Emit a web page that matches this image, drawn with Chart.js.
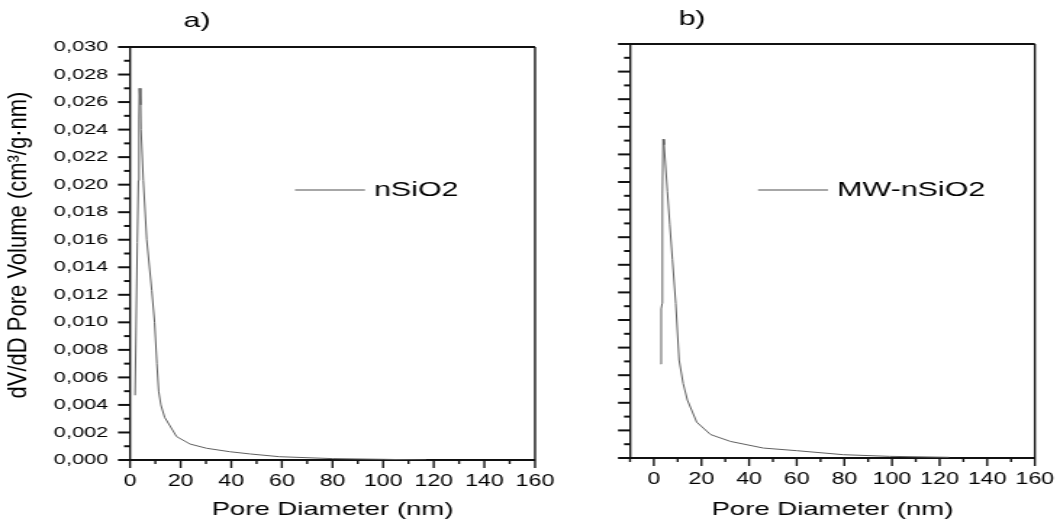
<!DOCTYPE html>
<html>
<head>
<meta charset="utf-8">
<script src="https://cdn.jsdelivr.net/npm/chart.js@4"></script>
<style>
    html, body { margin: 0; padding: 0; background: #fff; width: 1060px; height: 521px; overflow: hidden; }
    .panel { position: absolute; top: 0; height: 521px; }
    #panelA { left: 0; width: 580px; }
    #panelB { left: 580px; width: 480px; }
    canvas { display: block; }
</style>
</head>
<body>
<div class="panel" id="panelA"><canvas id="chartA"></canvas></div>
<div class="panel" id="panelB"><canvas id="chartB"></canvas></div>
<script>
// pore size distribution
var nSiO2Diameter = [2.0, 2.9, 3.3, 3.55, 3.7, 4.2, 4.35, 5.25, 6.6, 8.6, 9.7, 10.6, 11.3, 12.2, 13.7, 18.4, 23.7, 30.3, 39.5, 47.4, 59, 80, 100, 117];
var nSiO2Volume = [0.0047, 0.0158, 0.0203, 0.0247, 0.0270, 0.0258, 0.0240, 0.0203, 0.0160, 0.0123, 0.0100, 0.0070, 0.0050, 0.0040, 0.0031, 0.0017, 0.00116, 0.00085, 0.0006, 0.00044, 0.00024, 0.0001, 0.00005, 0.0];

var mwDiameter = [3.0, 3.1, 3.5, 3.6, 3.9, 4.3, 5.7, 6.7, 7.8, 9.2, 10.6, 12.3, 14.1, 18.0, 23.8, 32.2, 46, 60, 79.6, 99, 124];
var mwVolume = [0.0068, 0.0108, 0.0112, 0.0192, 0.0231, 0.0227, 0.0193, 0.0169, 0.0144, 0.0112, 0.0071, 0.0054, 0.0042, 0.0026, 0.0017, 0.0012, 0.00072, 0.00053, 0.00024, 0.00012, 0.00005];

var seriesNames = ['nSiO2', 'MW-nSiO2'];
var panelTitles = ['a)', 'b)'];
var xAxisTitle = 'Pore Diameter (nm)';
var yAxisTitle = 'dV/dD Pore Volume (cm\u00b3/g\u00b7nm)';

// the figure is stretched sideways, so the canvases are too
var S = 1.45;
var lineColor = '#606060';

Chart.defaults.font.family = "'Liberation Sans', Arial, sans-serif";
Chart.defaults.color = '#000';

function toPoints(xs, ys) {
    var pts = [];
    for (var i = 0; i < xs.length; i++) {
        pts.push({x: xs[i], y: ys[i]});
    }
    return pts;
}

var decorPlugin = {
    id: 'decor',
    afterDraw: function (chart, args, opts) {
        var ctx = chart.ctx;
        var area = chart.chartArea;
        var xs = chart.scales.x;
        var ys = chart.scales.y;
        ctx.save();
        ctx.strokeStyle = '#111';

        // top and right frame
        ctx.lineWidth = 2;
        ctx.beginPath();
        ctx.moveTo(area.left, area.top);
        ctx.lineTo(area.right, area.top);
        ctx.stroke();
        ctx.lineWidth = 2 / S;
        ctx.beginPath();
        ctx.moveTo(area.right, area.top);
        ctx.lineTo(area.right, area.bottom);
        ctx.stroke();

        // outward ticks, major + minor
        ctx.lineWidth = 2;
        ys.ticks.forEach(function (t) {
            var py = ys.getPixelForValue(t.value);
            var major = Math.round(t.value * 1000) % 2 === 0;
            var len = (major ? 12 : 6) / S;
            ctx.beginPath();
            ctx.moveTo(area.left - len, py);
            ctx.lineTo(area.left, py);
            ctx.stroke();
        });
        ctx.lineWidth = 2 / S;
        xs.ticks.forEach(function (t) {
            var px = xs.getPixelForValue(t.value);
            var major = t.value % 20 === 0;
            var len = major ? 8 : 4;
            ctx.beginPath();
            ctx.moveTo(px, area.bottom);
            ctx.lineTo(px, area.bottom + len);
            ctx.stroke();
        });

        // panel letter
        ctx.fillStyle = '#000';
        ctx.font = "21px 'Liberation Sans', Arial, sans-serif";
        ctx.textAlign = 'center';
        ctx.textBaseline = 'middle';
        ctx.fillText(opts.title, opts.titleX / S, opts.titleY);

        // legend
        var ds = chart.data.datasets[0];
        ctx.strokeStyle = '#8a8a8a';
        ctx.lineWidth = 1.5;
        ctx.beginPath();
        ctx.moveTo(opts.legendX1 / S, opts.legendY);
        ctx.lineTo(opts.legendX2 / S, opts.legendY);
        ctx.stroke();
        ctx.font = "21px 'Liberation Sans', Arial, sans-serif";
        ctx.textAlign = 'left';
        ctx.fillText(ds.label, opts.legendTextX / S, opts.legendY);

        // vertical axis title, mostly unstretched
        if (opts.yTitle) {
            ctx.save();
            ctx.translate(19 / S, 245);
            ctx.scale(1.15 / S, 1);
            ctx.rotate(-Math.PI / 2);
            ctx.font = "22px 'Liberation Sans', Arial, sans-serif";
            ctx.textAlign = 'center';
            ctx.fillText(opts.yTitle, 0, 0);
            ctx.restore();
        }
        ctx.restore();
    }
};

function makePanel(canvasId, cssWidth, areaLeft, areaRight, areaTop, areaBottom, xMin, showYLabels, xs, ys, name, decor) {
    var canvas = document.getElementById(canvasId);
    var w = Math.round(cssWidth / S);
    canvas.width = w;
    canvas.height = 521;
    canvas.style.width = (w * S) + 'px';
    canvas.style.height = '521px';

    var leftIn = areaLeft / S;
    var rightPad = w - areaRight / S;

    return new Chart(canvas, {
        type: 'scatter',
        data: {
            datasets: [{
                label: name,
                data: toPoints(xs, ys),
                showLine: true,
                borderColor: lineColor,
                borderWidth: 1,
                pointRadius: 0,
                tension: 0
            }]
        },
        options: {
            responsive: false,
            animation: false,
            devicePixelRatio: 1,
            layout: {padding: {left: 0, right: rightPad, top: areaTop, bottom: 0}},
            plugins: {
                legend: {display: false},
                tooltip: {enabled: false},
                decor: decor
            },
            scales: {
                x: {
                    type: 'linear',
                    min: xMin,
                    max: 160,
                    afterFit: function (scale) { scale.height = 521 - areaBottom; },
                    grid: {display: false},
                    border: {display: true, color: '#111', width: 2},
                    ticks: {
                        stepSize: 10,
                        autoSkip: false,
                        maxRotation: 0,
                        padding: 4,
                        font: {size: 16},
                        callback: function (v) { return v % 20 === 0 ? String(v) : ''; }
                    },
                    title: {
                        display: true,
                        text: xAxisTitle,
                        font: {size: 19},
                        padding: {top: 0, bottom: 0}
                    }
                },
                y: {
                    type: 'linear',
                    min: 0,
                    max: 0.030,
                    afterFit: function (scale) { scale.width = leftIn; },
                    grid: {display: false},
                    border: {display: true, color: '#111', width: 2 / S},
                    ticks: {
                        display: showYLabels,
                        stepSize: 0.001,
                        autoSkip: false,
                        padding: 7,
                        font: {size: 15},
                        callback: function (v) {
                            return Math.round(v * 1000) % 2 === 0 ? v.toFixed(3).replace('.', ',') : '';
                        }
                    }
                }
            }
        },
        plugins: [decorPlugin]
    });
}

makePanel('chartA', 580, 130, 535, 47, 460, 0, true, nSiO2Diameter, nSiO2Volume, seriesNames[0], {
    title: panelTitles[0], titleX: 197, titleY: 21,
    legendX1: 295, legendX2: 365, legendTextX: 374, legendY: 190,
    yTitle: yAxisTitle
});

makePanel('chartB', 480, 50, 456, 44, 458, -10, false, mwDiameter, mwVolume, seriesNames[1], {
    title: panelTitles[1], titleX: 112, titleY: 19,
    legendX1: 178, legendX2: 248, legendTextX: 257, legendY: 190,
    yTitle: null
});
</script>
</body>
</html>
